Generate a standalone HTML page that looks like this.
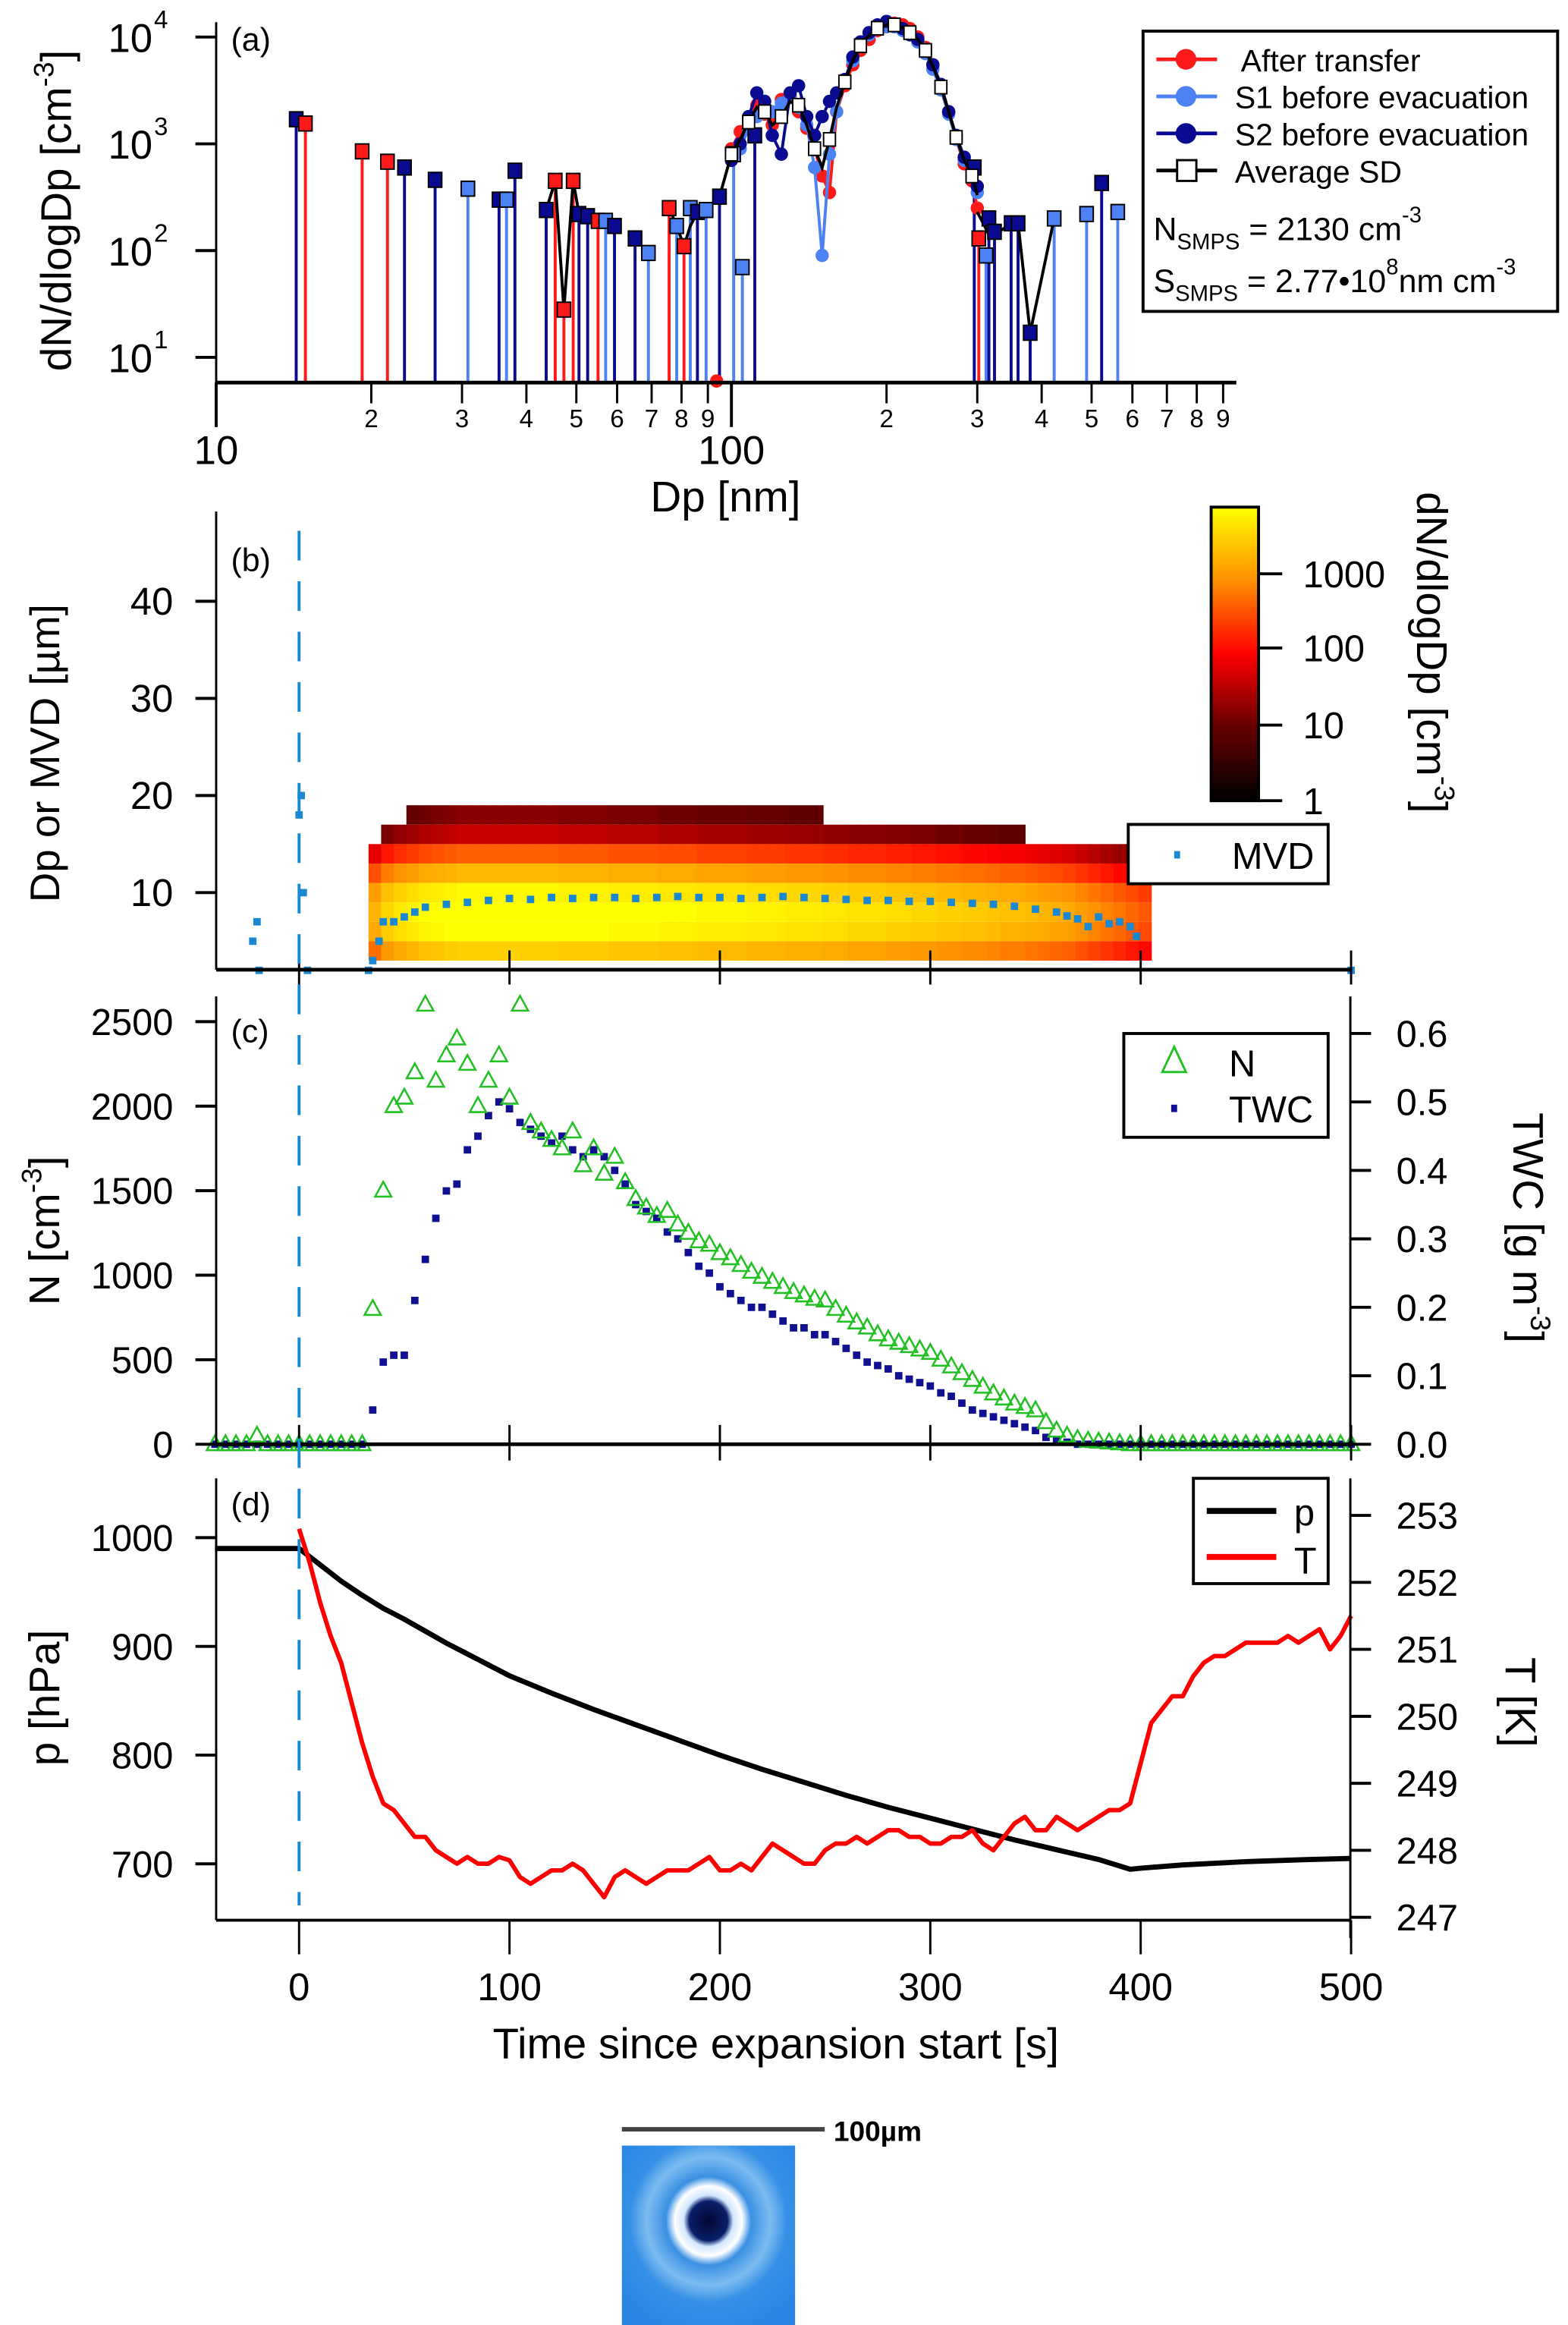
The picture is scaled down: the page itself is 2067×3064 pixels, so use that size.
<!DOCTYPE html>
<html><head><meta charset="utf-8"><style>
html,body{margin:0;padding:0;background:#fff}
svg{display:block}
text{font-family:"Liberation Sans",sans-serif;fill:#000}
</style></head><body>
<svg id="fig" xmlns="http://www.w3.org/2000/svg" width="2067" height="3064" viewBox="0 0 1059 1568" preserveAspectRatio="none">
<defs>
<linearGradient id="cbar" x1="0" y1="1" x2="0" y2="0">
<stop offset="0" stop-color="#000"/><stop offset="0.26" stop-color="#6a0000"/><stop offset="0.5" stop-color="#ff0000"/><stop offset="0.75" stop-color="#ff9000"/><stop offset="1" stop-color="#ffff00"/>
</linearGradient>
<radialGradient id="drop" cx="0.5" cy="0.42" r="0.65">
<stop offset="0" stop-color="#000830"/><stop offset="0.17" stop-color="#0a1e6a"/><stop offset="0.22" stop-color="#cfe6ff"/><stop offset="0.3" stop-color="#ffffff"/><stop offset="0.38" stop-color="#3a90e4"/><stop offset="0.55" stop-color="#7cbcf2"/><stop offset="0.7" stop-color="#3590e6"/><stop offset="1" stop-color="#2a86e2"/>
</radialGradient>
</defs>
<g id="pa"></g>
<g id="pb"></g>
<g id="pc"></g>
<g id="pd"></g>
<g>
<line x1="420" y1="1436" x2="557" y2="1436" stroke="#444" stroke-width="3"/>
<text x="563" y="1444" font-size="19" font-weight="bold" fill="#333">100µm</text>
<rect x="420" y="1447" width="117" height="121" fill="url(#drop)"/>
</g>
</svg>
<script>
// ---------- data: panel (a) ----------
const stemD=[14.3,14.9,19.2,21.5,23.2,26.6,30.8,35.4,36.6,38.0,43.7,45.5,47.3,49.3,50.6,52.6,55.1,57.0,59.3,65.0,69.0,75.7,78.3,80.9,83.2,85.9,89.3,93.6,94.8,101,105,111,296,302,312,316,324,349,360,380,423,489,523,562];
const stemV=[1700,1550,850,680,600,460,380,300,300,560,240,450,28,450,220,210,190,190,170,130,95,250,170,110,250,230,240,6,320,800,70,1200,600,130,90,200,150,180,180,17,200,220,430,230];
const stemS=[2,0,0,0,2,2,1,2,1,2,2,0,0,0,2,2,0,1,2,2,1,0,1,0,1,2,1,0,2,1,1,2,2,0,1,2,2,2,2,2,1,1,2,1];
const coreD=[100,104,108,112,116,120,125,130,135,140,145,150,155,160,166,172,178,185,192,200,207,215,222,230,238,246,255,264,273,283,293,300];
const redV=[900,1300,1700,2300,1900,1500,2600,2800,2000,1400,900,500,350,2000,3500,5500,7500,9500,11500,13000,13500,13000,12000,10000,8000,5500,3500,2000,1100,650,450,250];
const s1V=[800,900,1400,1800,2200,2000,2400,2700,2200,1500,600,90,800,2000,4000,6000,8500,10500,12000,12500,12500,11500,10500,9000,7000,5000,3200,1900,1100,700,500,350];
const s2V=[700,1000,1800,3000,2500,1200,800,3000,3500,1800,1200,1800,2500,3000,4000,6500,9000,11000,13000,14000,13000,12000,10500,9500,7500,5500,3600,2000,1200,750,550,400];
const avgV=[800,1100,1600,2200,2000,1500,1800,2500,2300,1500,900,600,1100,2200,3800,6000,8300,10300,12100,13000,13000,12200,11000,9500,7500,5300,3400,2000,1150,700,500,330];
const avgLowD=[[35.4,38.0],[43.7,45.5,47.3,49.3,50.6,52.6,55.1,57.0,59.3],[75.7,78.3,80.9,83.2,85.9,89.3,94.8,100],[300,312,316,324,349,360,380,423]];
const avgLowV=[[300,350],[240,450,28,450,220,210,190,180,170],[250,170,110,170,230,240,320,800],[230,160,140,140,180,180,17,200]];
const xMajA=[10,100], xMinorA=[2,3,4,5,6,7,8,9];
// ---------- data: panel (b) ----------
const rowLo=[3,5,7,9,11,13,15,17];
const rowLevel=[3.4,3.85,3.95,3.75,3.2,2.5,1.5,1.1];
const colT=[];for(let t=33;t<400;t+=6)colT.push(t);
const colAdj=[-0.7,-0.4,-0.25,-0.15,-0.05,0,0.05,0.1,0.1,0.1,0.1,0.1,0.1,0.1,0.1,0.05,0.05,0.05,0.05,0,0,0,0,-0.05,-0.05,-0.05,-0.1,-0.1,-0.1,-0.1,-0.15,-0.15,-0.15,-0.2,-0.2,-0.2,-0.25,-0.25,-0.3,-0.3,-0.3,-0.35,-0.35,-0.4,-0.4,-0.45,-0.45,-0.5,-0.5,-0.55,-0.6,-0.6,-0.65,-0.7,-0.75,-0.8,-0.9,-1.0,-1.1,-1.2,-1.3,-1.4];
const mvdT=[-22,-20,-19,0,1,2,4,33,35,38,40,45,50,55,60,70,80,90,100,110,120,130,140,150,160,170,180,190,200,210,220,230,240,250,260,270,280,290,300,310,320,330,340,350,360,365,370,375,380,385,390,395,398,500];
const mvdV=[5,7,2,18,20,10,2,2,3,5,7,7,7.5,8,8.5,8.8,9,9.2,9.4,9.3,9.5,9.4,9.5,9.5,9.4,9.5,9.6,9.5,9.5,9.4,9.5,9.6,9.5,9.4,9.3,9.2,9.2,9.1,9.1,9.0,8.9,8.8,8.6,8.3,8.0,7.6,7.3,6.5,7.5,6.8,7.0,6.5,5.5,2];
const yTicksB=[10,20,30,40];
// ---------- data: panel (c) ----------
const tC=[];for(let t=-40;t<=500;t+=5)tC.push(t);
const nV=[0,0,0,0,50,0,0,0,0,0,0,0,0,0,0,
800,1500,2000,2050,2200,2600,2150,2300,2400,2250,2000,2150,2300,2050,2600,1900,1850,1800,1750,1850,1650,1750,1600,1700,1550,1450,1400,1350,1380,1300,1250,1200,1180,1130,1100,1060,1020,990,960,930,900,880,860,850,800,760,720,690,650,620,600,580,560,540,500,460,420,380,340,300,270,240,220,200,130,80,50,30,
20,15,10,5,0,0,0,0,0,0,0,0,0,0,0,0,0,0,0,0,0,0,0,0,0,0];
const twcV=[0,0,0,0,0,0,0,0,0,0,0,0,0,0,0,
0.05,0.12,0.13,0.13,0.21,0.27,0.33,0.37,0.38,0.43,0.45,0.48,0.5,0.49,0.47,0.46,0.45,0.44,0.45,0.43,0.42,0.43,0.42,0.40,0.38,0.35,0.34,0.33,0.31,0.30,0.28,0.26,0.25,0.23,0.22,0.21,0.2,0.2,0.19,0.18,0.17,0.17,0.16,0.16,0.15,0.14,0.13,0.12,0.115,0.11,0.10,0.095,0.09,0.085,0.075,0.07,0.06,0.05,0.045,0.04,0.035,0.03,0.025,0.02,0.01,0.005,0.003,0,
0,0,0,0,0,0,0,0,0,0,0,0,0,0,0,0,0,0,0,0,0,0,0,0,0,0];
const nTicks=[0,500,1000,1500,2000,2500], twcTicks=[0,0.1,0.2,0.3,0.4,0.5,0.6];
// ---------- data: panel (d) ----------
const tP=[-40,-20,0,10,20,30,40,50,60,70,80,90,100,120,140,160,180,200,220,240,260,280,300,320,340,360,380,395,400,420,450,480,500];
const pV=[990,990,990,975,960,947,935,925,914,903,893,883,873,857,842,828,814,800,787,775,763,752,742,732,722,713,704,695,696,699,702,704,705];
const tT=[];for(let t=0;t<=500;t+=5)tT.push(t);
const TV=[252.8,252.3,251.7,251.2,250.8,250.2,249.6,249.1,248.7,248.6,248.4,248.2,248.2,248.0,247.9,247.8,247.9,247.8,247.8,247.9,247.85,247.6,247.5,247.6,247.7,247.7,247.8,247.7,247.5,247.3,247.6,247.7,247.6,247.5,247.6,247.7,247.7,247.7,247.8,247.9,247.7,247.7,247.8,247.7,247.9,248.1,248.0,247.9,247.8,247.8,248.0,248.1,248.1,248.2,248.1,248.2,248.3,248.3,248.2,248.2,248.1,248.1,248.2,248.2,248.3,248.1,248.0,248.2,248.4,248.5,248.3,248.3,248.5,248.4,248.3,248.4,248.5,248.6,248.6,248.7,249.3,249.9,250.1,250.3,250.3,250.6,250.8,250.9,250.9,251.0,251.1,251.1,251.1,251.1,251.2,251.1,251.2,251.3,251.0,251.2,251.5];
const pTicks=[700,800,900,1000], TTicks=[247,248,249,250,251,252,253];
const timeTicks=[0,100,200,300,400,500];

// ---------- helpers ----------
const NS='http://www.w3.org/2000/svg';
function mk(parent,tag,attrs,txt){const e=document.createElementNS(NS,tag);for(const k in attrs)e.setAttribute(k,attrs[k]);if(txt!==undefined)e.textContent=txt;parent.appendChild(e);return e;}
const xa=D=>146+348*(Math.log10(D)-1);
const ya=v=>Math.min(258,25+72*(4-Math.log10(Math.max(v,1e-3))));
const xt=t=>202+1.421*t;
const yb=d=>667.5-6.55*d;
const yN=n=>974-0.114*n, yW=w=>974-461.7*w;
const yP=p=>1037+(1000-p)*0.7333, yT=T=>1022+(253-T)*45.17;
const cols=['#ff1a1a','#4d82f5','#0a0a90'];
function heat(l){const f=Math.max(0,Math.min(1,l/3.9));const st=[[0,0,0,0],[0.26,106,0,0],[0.5,255,0,0],[0.75,255,144,0],[1,255,255,0]];for(let i=1;i<st.length;i++){if(f<=st[i][0]){const a=st[i-1],b=st[i],u=(f-a[0])/(b[0]-a[0]);return `rgb(${Math.round(a[1]+u*(b[1]-a[1]))},${Math.round(a[2]+u*(b[2]-a[2]))},${Math.round(a[3]+u*(b[3]-a[3]))})`;}}return 'rgb(255,255,0)';}

// ---------- panel (a) ----------
const pa=document.getElementById('pa');
stemD.forEach((d,i)=>{const x=xa(d);const l=mk(pa,'line',{x1:x,y1:ya(stemV[i]),x2:x,y2:258,stroke:cols[stemS[i]],'stroke-width':2});
});
[[redV,0],[s1V,1],[s2V,2]].forEach(([vals,s])=>{const pts=coreD.map((d,i)=>xa(d)+','+ya(vals[i])).join(' ');
const pl=mk(pa,'polyline',{points:pts,fill:'none',stroke:cols[s],'stroke-width':2});
coreD.forEach((d,i)=>{const c=mk(pa,'circle',{cx:xa(d),cy:ya(vals[i]),r:4.5,fill:cols[s]});});});
avgLowD.forEach((seg,j)=>{const pl=mk(pa,'polyline',{points:seg.map((d,i)=>xa(d)+','+ya(avgLowV[j][i])).join(' '),fill:'none',stroke:'#000','stroke-width':2});});
stemD.forEach((d,i)=>{if(stemV[i]<10&&stemS[i]===0){const c=mk(pa,'circle',{cx:xa(d),cy:ya(stemV[i]),r:4.5,fill:cols[0]});}else{const r=mk(pa,'rect',{x:xa(d)-4.5,y:ya(stemV[i])-5,width:9,height:10,fill:cols[stemS[i]],stroke:'#000','stroke-width':1});}});
{const pl=mk(pa,'polyline',{points:coreD.map((d,i)=>xa(d)+','+ya(avgV[i])).join(' '),fill:'none',stroke:'#000','stroke-width':2});
coreD.forEach((d,i)=>{if(i%2===0){const r=mk(pa,'rect',{x:xa(d)-4,y:ya(avgV[i])-4.5,width:8,height:9,fill:'#fff',stroke:'#000','stroke-width':1});}});}
mk(pa,'line',{x1:146,y1:258,x2:835,y2:258,stroke:'#000','stroke-width':2.5,});
mk(pa,'line',{x1:146,y1:15,x2:146,y2:288,stroke:'#000','stroke-width':1.5,});
[1,2,3,4].forEach(e=>{const y=25+72*(4-e);mk(pa,'line',{x1:132,y1:y,x2:146,y2:y,stroke:'#000','stroke-width':2});
const t=mk(pa,'text',{x:73,y:y+10,'font-size':27},'10');
mk(pa,'text',{x:104,y:y-6,'font-size':17},String(e));});
xMajA.forEach(m=>{const x=xa(m);mk(pa,'line',{x1:x,y1:258,x2:x,y2:288,stroke:'#000','stroke-width':2});
const t=mk(pa,'text',{x:x,y:313,'font-size':27,'text-anchor':'middle'},String(m));
xMinorA.forEach(k=>{const xx=xa(m*k);if(xx<836){mk(pa,'line',{x1:xx,y1:258,x2:xx,y2:272,stroke:'#000','stroke-width':1.5});
const tt=mk(pa,'text',{x:xx,y:288,'font-size':17,'text-anchor':'middle'},String(k));}});});
mk(pa,'text',{x:490,y:345,'font-size':29,'text-anchor':'middle',},'Dp [nm]');
{const t=mk(pa,'text',{transform:'translate(48,142) rotate(-90)','font-size':29,'text-anchor':'middle',});t.innerHTML='dN/dlogDp [cm<tspan dy="-12" font-size="19">-3</tspan><tspan dy="12">]</tspan>';}
mk(pa,'text',{x:156,y:34,'font-size':22,},'(a)');
{const g=mk(pa,'g',{});
mk(g,'rect',{x:772,y:21,width:280,height:189,fill:'#fff',stroke:'#000','stroke-width':2});
const items=[['After transfer',cols[0],'c'],['S1 before evacuation',cols[1],'c'],['S2 before evacuation',cols[2],'c'],['Average SD','#000','s']];
items.forEach((it,i)=>{const y=40+25*i;const e=mk(g,'g',{});
mk(e,'line',{x1:781,y1:y,x2:822,y2:y,stroke:it[1],'stroke-width':2.5});
if(it[2]==='c')mk(e,'circle',{cx:801,cy:y,r:7,fill:it[1]});else mk(e,'rect',{x:795,y:y-7,width:13,height:14,fill:'#fff',stroke:'#000','stroke-width':1.5});
mk(e,'text',{x:i===0?838:834,y:y+8,'font-size':21},it[0]);});
const t1=mk(g,'text',{x:779,y:162,'font-size':22,});t1.innerHTML='N<tspan font-size="15" dy="6">SMPS</tspan><tspan dy="-6"> = 2130 cm</tspan><tspan font-size="15" dy="-12">-3</tspan>';
const t2=mk(g,'text',{x:779,y:197,'font-size':22,});t2.innerHTML='S<tspan font-size="15" dy="6">SMPS</tspan><tspan dy="-6"> = 2.77•10</tspan><tspan font-size="15" dy="-12">8</tspan><tspan dy="12">nm cm</tspan><tspan font-size="15" dy="-12">-3</tspan>';}

// ---------- panel (b) ----------
const pb=document.getElementById('pb');
colT.forEach((t,j)=>{rowLo.forEach((d,i)=>{const l=rowLevel[i]+colAdj[j];if(l<0.9)return;
const y1=Math.min(654,yb(d)),y0=yb(d+2);const r=mk(pb,'rect',{x:xt(t),y:y0,width:xt(t+6)-xt(t)+0.4,height:y1-y0,fill:heat(l)});
});});
mvdT.forEach((t,i)=>{const r=mk(pb,'rect',{x:xt(t)-2.5,y:yb(mvdV[i])-2.5,width:5,height:5,fill:'#1a88d0'});});
mk(pb,'line',{x1:146,y1:654,x2:912,y2:654,stroke:'#000','stroke-width':2.5,});
mk(pb,'line',{x1:146,y1:345,x2:146,y2:654,stroke:'#000','stroke-width':1.5,});
timeTicks.forEach(t=>mk(pb,'line',{x1:xt(t),y1:641,x2:xt(t),y2:664,stroke:'#000','stroke-width':1.5}));
yTicksB.forEach(v=>{mk(pb,'line',{x1:132,y1:yb(v),x2:146,y2:yb(v),stroke:'#000','stroke-width':2});
const t=mk(pb,'text',{x:117,y:yb(v)+9,'font-size':26,'text-anchor':'end'},String(v));});
mk(pb,'text',{transform:'translate(40,508) rotate(-90)','font-size':28,'text-anchor':'middle',},'Dp or MVD [µm]');
mk(pb,'text',{x:156,y:385,'font-size':22,},'(b)');
{const g=mk(pb,'g',{});
mk(g,'rect',{x:818,y:342,width:32,height:198,fill:'url(#cbar)',stroke:'#000','stroke-width':2});
[[1,540],[10,489],[100,437],[1000,387]].forEach(([v,y])=>{mk(g,'line',{x1:850,y1:y,x2:866,y2:y,stroke:'#000','stroke-width':2});mk(g,'text',{x:880,y:y+9,'font-size':25},String(v));});
const t=mk(g,'text',{transform:'translate(957,440) rotate(90)','font-size':29,'text-anchor':'middle',});t.innerHTML='dN/dlogDp [cm<tspan dy="-12" font-size="19">-3</tspan><tspan dy="12">]</tspan>';}
{const g=mk(pb,'g',{});mk(g,'rect',{x:762,y:556,width:135,height:40,fill:'#fff',stroke:'#000','stroke-width':2});
mk(g,'rect',{x:793,y:574,width:4,height:5,fill:'#1a88d0'});mk(g,'text',{x:832,y:586,'font-size':25},'MVD');}

// ---------- panel (c) ----------
const pc=document.getElementById('pc');
tC.forEach((t,i)=>{const r=mk(pc,'rect',{x:xt(t)-2.5,y:yW(twcV[i])-2.5,width:5,height:5,fill:'#101090'});});
tC.forEach((t,i)=>{const x=xt(t),y=yN(nV[i]);const p=mk(pc,'polygon',{points:`${x},${y-6} ${x-5.5},${y+4} ${x+5.5},${y+4}`,fill:'none',stroke:'#22c022','stroke-width':1.3});});
mk(pc,'line',{x1:146,y1:974,x2:912,y2:974,stroke:'#000','stroke-width':2.5,});
mk(pc,'line',{x1:146,y1:672,x2:146,y2:974,stroke:'#000','stroke-width':1.5,});
mk(pc,'line',{x1:912,y1:672,x2:912,y2:974,stroke:'#000','stroke-width':1.5,});
timeTicks.forEach(t=>mk(pc,'line',{x1:xt(t),y1:961,x2:xt(t),y2:985,stroke:'#000','stroke-width':1.5}));
nTicks.forEach(v=>{mk(pc,'line',{x1:132,y1:yN(v),x2:146,y2:yN(v),stroke:'#000','stroke-width':2});
const t=mk(pc,'text',{x:117,y:yN(v)+9,'font-size':25,'text-anchor':'end'},String(v));});
twcTicks.forEach(v=>{mk(pc,'line',{x1:912,y1:yW(v),x2:926,y2:yW(v),stroke:'#000','stroke-width':2});
const t=mk(pc,'text',{x:943,y:yW(v)+9,'font-size':25},v.toFixed(1));});
{const t=mk(pc,'text',{transform:'translate(40,830) rotate(-90)','font-size':29,'text-anchor':'middle',});t.innerHTML='N [cm<tspan dy="-12" font-size="19">-3</tspan><tspan dy="12">]</tspan>';}
{const t=mk(pc,'text',{transform:'translate(1022,828) rotate(90)','font-size':29,'text-anchor':'middle',});t.innerHTML='TWC [g m<tspan dy="-12" font-size="19">-3</tspan><tspan dy="12">]</tspan>';}
mk(pc,'text',{x:156,y:703,'font-size':22,},'(c)');
{const g=mk(pc,'g',{});mk(g,'rect',{x:759,y:697,width:138,height:70,fill:'#fff',stroke:'#000','stroke-width':2});
mk(g,'polygon',{points:'793,706 785,723 801,723',fill:'none',stroke:'#22c022','stroke-width':1.5});mk(g,'text',{x:830,y:726,'font-size':25},'N');
mk(g,'rect',{x:791,y:745,width:4,height:5,fill:'#101090'});mk(g,'text',{x:830,y:757,'font-size':25},'TWC');}

// ---------- panel (d) ----------
const pd=document.getElementById('pd');
{const pl=mk(pd,'polyline',{points:tP.map((t,i)=>xt(t)+','+yP(pV[i])).join(' '),fill:'none',stroke:'#000','stroke-width':3.5});}
{const pl=mk(pd,'polyline',{points:tT.map((t,i)=>xt(t)+','+yT(TV[i])).join(' '),fill:'none',stroke:'#ff0000','stroke-width':3,'stroke-linejoin':'round'});}
mk(pd,'line',{x1:146,y1:1295,x2:912,y2:1295,stroke:'#000','stroke-width':2,});
mk(pd,'line',{x1:146,y1:997,x2:146,y2:1295,stroke:'#000','stroke-width':1.5,});
mk(pd,'line',{x1:912,y1:997,x2:912,y2:1307,stroke:'#000','stroke-width':1.5,});
timeTicks.forEach(t=>{mk(pd,'line',{x1:xt(t),y1:1295,x2:xt(t),y2:1318,stroke:'#000','stroke-width':1.5});
const tx=mk(pd,'text',{x:xt(t),y:1349,'font-size':26,'text-anchor':'middle'},String(t));});
pTicks.forEach(v=>{mk(pd,'line',{x1:132,y1:yP(v),x2:146,y2:yP(v),stroke:'#000','stroke-width':2});
const t=mk(pd,'text',{x:117,y:yP(v)+9,'font-size':25,'text-anchor':'end'},String(v));});
TTicks.forEach(v=>{mk(pd,'line',{x1:912,y1:yT(v),x2:926,y2:yT(v),stroke:'#000','stroke-width':2});
const t=mk(pd,'text',{x:943,y:yT(v)+9,'font-size':25},String(v));});
mk(pd,'text',{transform:'translate(40,1145) rotate(-90)','font-size':29,'text-anchor':'middle',},'p [hPa]');
mk(pd,'text',{transform:'translate(1017,1148) rotate(90)','font-size':29,'text-anchor':'middle',},'T [K]');
mk(pd,'text',{x:524,y:1388,'font-size':29,'text-anchor':'middle',},'Time since expansion start [s]');
mk(pd,'text',{x:156,y:1022,'font-size':22,},'(d)');
{const g=mk(pd,'g',{});mk(g,'rect',{x:806,y:997,width:91,height:71,fill:'#fff',stroke:'#000','stroke-width':2});
mk(g,'line',{x1:815,y1:1019,x2:862,y2:1019,stroke:'#000','stroke-width':4});mk(g,'text',{x:874,y:1029,'font-size':25},'p');
mk(g,'line',{x1:815,y1:1050,x2:862,y2:1050,stroke:'#ff0000','stroke-width':4});mk(g,'text',{x:874,y:1061,'font-size':25},'T');}

// dashed expansion-start line
{const svg=document.getElementById('fig');const l=mk(svg,'line',{x1:xt(0),y1:358,x2:xt(0),y2:1285,stroke:'#1a88d0','stroke-width':2,'stroke-dasharray':'20,14'});
}
</script>
</body></html>
